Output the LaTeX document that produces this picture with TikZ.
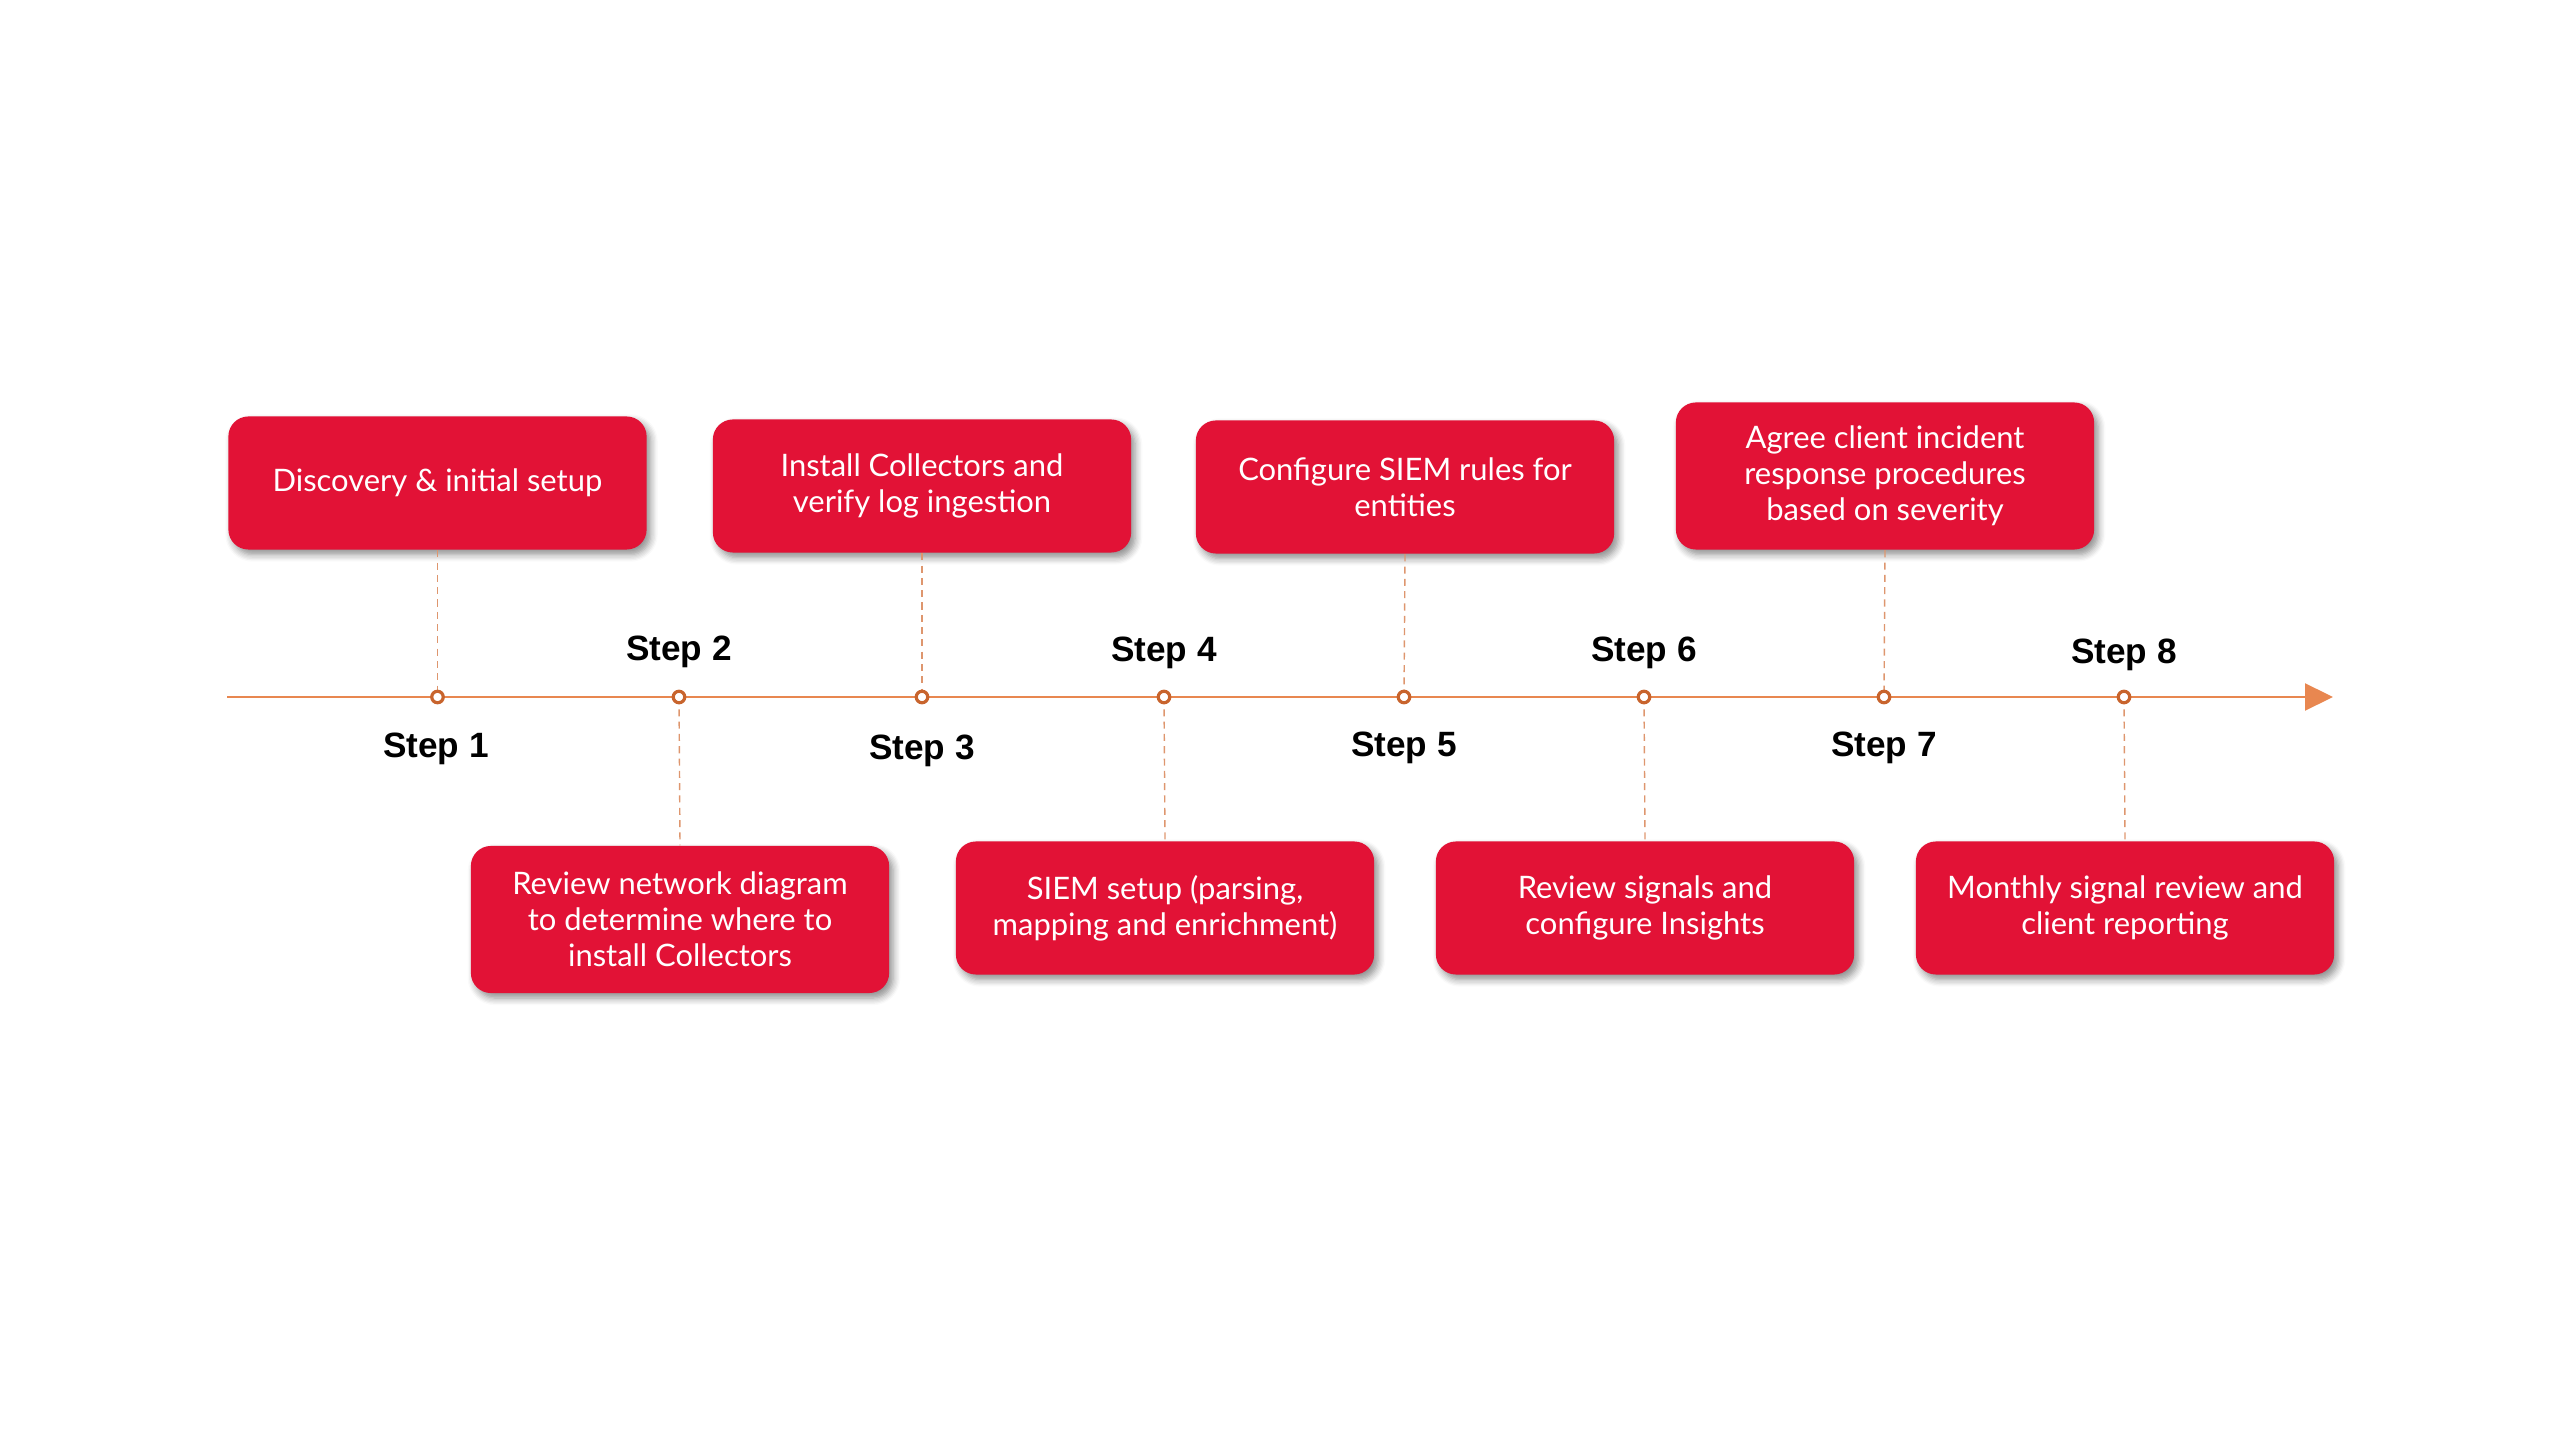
\documentclass[tikz,border=0pt]{standalone}
\usepackage{fontspec}
\setmainfont{Lato}
\newfontfamily\stepfont{Liberation Sans}
\usetikzlibrary{arrows.meta,shadows.blur}
\definecolor{boxred}{RGB}{226,18,54}
\definecolor{lineorange}{RGB}{232,135,80}
\definecolor{dotorange}{RGB}{200,100,45}
\definecolor{dashorange}{RGB}{222,150,110}
\begin{document}
\begin{tikzpicture}[x=0.01cm,y=-0.01cm,
  stepbox/.style={fill=boxred, rounded corners=0.2cm, text=white, align=center,
    minimum width=4.18cm, minimum height=1.33cm, inner sep=0pt,
    font=\fontsize{8.8}{10.3}\selectfont,
    blur shadow={shadow xshift=0.04cm, shadow yshift=-0.05cm, shadow blur steps=6, shadow opacity=45}},
  tallbox/.style={stepbox, minimum height=1.47cm},
  steplabel/.style={font=\stepfont\bfseries\fontsize{10}{12}\selectfont, text=black, inner sep=0pt},
  dot/.style={circle, draw=dotorange, fill=white, line width=0.032cm, minimum size=0.115cm, inner sep=0pt},
  connector/.style={draw=dashorange, line width=0.4pt, dash pattern=on 2pt off 1.5pt},
  timeline/.style={draw=lineorange, line width=0.6pt}]

\useasboundingbox (0,0) rectangle (2560,1440);

% timeline
\coordinate (tstart) at (227,697);
\coordinate (tend) at (2333,697);
\draw[timeline, -{Triangle[length=0.28cm,width=0.27cm]}] (tstart) -- (tend);

% boxes
\node[stepbox] (b1) at (437.5,483) {Discovery \& initial setup};
\node[stepbox] (b3) at (922,486) {Install Collectors and\\verify log ingestion};
\node[stepbox] (b5) at (1405,487) {Configure SIEM rules for\\entities};
\node[tallbox] (b7) at (1885,476) {Agree client incident\\response procedures\\based on severity};
\node[tallbox] (b2) at (680,919.5) {Review network diagram\\to determine where to\\install Collectors};
\node[stepbox] (b4) at (1165,908) {SIEM setup (parsing,\\mapping and enrichment)};
\node[stepbox] (b6) at (1645,908) {Review signals and\\configure Insights};
\node[stepbox] (b8) at (2125,908) {Monthly signal review and\\client reporting};

% dot positions
\coordinate (p1) at (437.5,697);
\coordinate (p2) at (679,697);
\coordinate (p3) at (922,697);
\coordinate (p4) at (1164,697);
\coordinate (p5) at (1404,697);
\coordinate (p6) at (1644,697);
\coordinate (p7) at (1884,697);
\coordinate (p8) at (2124,697);

% connectors
\draw[connector] (b1.south) -- (p1);
\draw[connector] (b3.south) -- (p3);
\draw[connector] (b5.south) -- (p5);
\draw[connector] (b7.south) -- (p7);
\draw[connector] (p2) -- (b2.north);
\draw[connector] (p4) -- (b4.north);
\draw[connector] (p6) -- (b6.north);
\draw[connector] (p8) -- (b8.north);

% dots
\foreach \i in {1,...,8} { \node[dot] (d\i) at (p\i) {}; }

% step labels
\node[steplabel] (s1) at (436,749) {Step 1};
\node[steplabel] (s2) at (679,652) {Step 2};
\node[steplabel] (s3) at (922,751) {Step 3};
\node[steplabel] (s4) at (1164,653) {Step 4};
\node[steplabel] (s5) at (1404,748) {Step 5};
\node[steplabel] (s6) at (1644,653) {Step 6};
\node[steplabel] (s7) at (1884,748) {Step 7};
\node[steplabel] (s8) at (2124,655) {Step 8};
\end{tikzpicture}
\end{document}
